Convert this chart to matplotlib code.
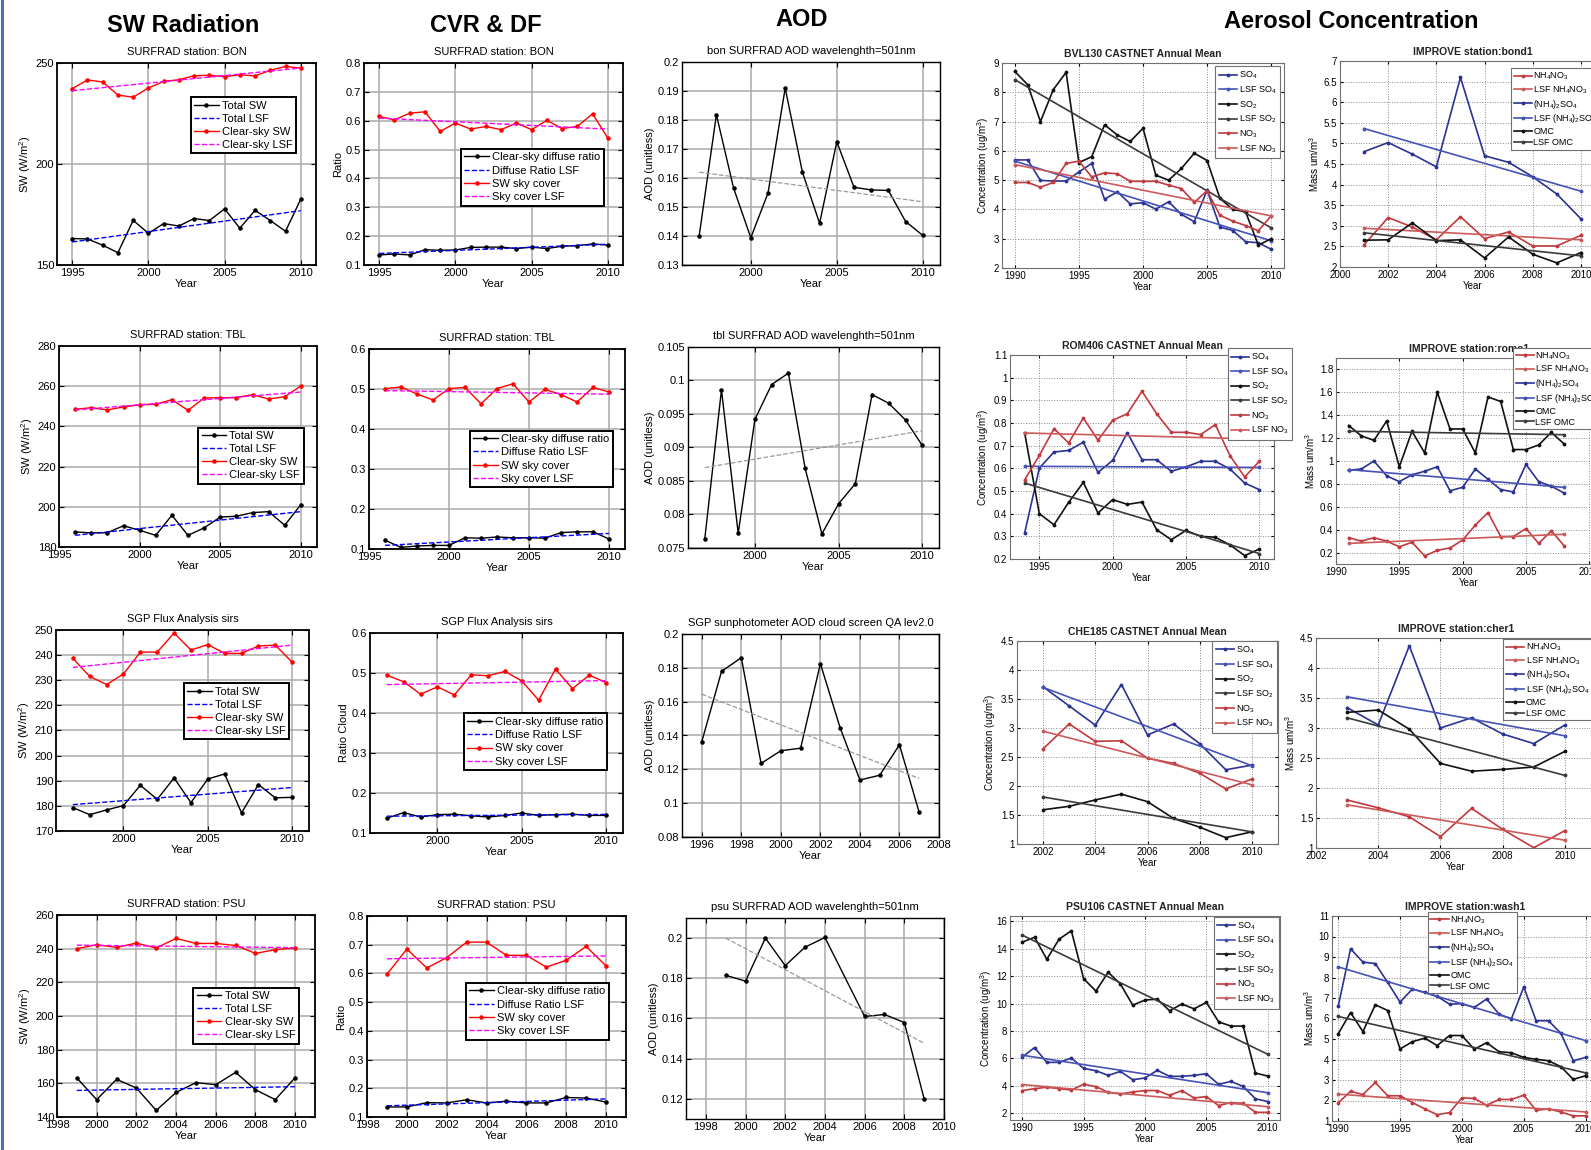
"""
Slide of four station rows: SW radiation, cloud cover / diffuse fraction,
AOD and aerosol concentration trends (CASTNET + IMPROVE).
"""

import matplotlib
matplotlib.use('Agg')
import matplotlib.pyplot as plt
from matplotlib.lines import Line2D

W, H = 1591, 1150

# =========================
# 1. data
# =========================
# --- SURFRAD BON ---
bon_years = list(range(1995, 2011))
bon_total_sw = [163.1, 162.9, 159.8, 156.1, 172.1, 165.7, 170.5, 169.3, 173.0, 172.0, 177.8, 168.2, 177.1, 172.0, 166.7, 182.6]
bon_total_lsf = [161.4, 176.9]
bon_clear_sw = [237.3, 241.6, 240.6, 234.1, 233.1, 237.6, 240.9, 241.7, 243.7, 243.9, 243.2, 244.2, 243.6, 246.4, 248.3, 247.5]
bon_clear_lsf = [236.3, 247.5]
bon_diffuse = [0.135, 0.138, 0.135, 0.153, 0.151, 0.152, 0.161, 0.162, 0.162, 0.157, 0.162, 0.157, 0.165, 0.167, 0.173, 0.169]
bon_diffuse_lsf = [0.140, 0.172]
bon_cover = [0.615, 0.603, 0.626, 0.631, 0.563, 0.592, 0.571, 0.580, 0.569, 0.592, 0.569, 0.601, 0.573, 0.580, 0.624, 0.540]
bon_cover_lsf = [0.609, 0.571]
bon_aod_years = list(range(1997, 2011))
bon_aod = [0.1401, 0.1818, 0.1565, 0.1394, 0.1548, 0.1910, 0.1620, 0.1444, 0.1725, 0.1568, 0.1559, 0.1557, 0.1450, 0.1402]
bon_aod_trend = [0.1620, 0.1518]

# --- SURFRAD TBL ---
tbl_years = list(range(1996, 2011))
tbl_total_sw = [187.5, 187.0, 187.1, 190.6, 188.3, 185.8, 195.8, 185.8, 189.5, 194.9, 195.3, 197.1, 197.6, 190.8, 201.1]
tbl_total_lsf = [185.8, 197.6]
tbl_clear_sw = [248.5, 249.3, 248.2, 249.7, 250.8, 251.0, 253.3, 248.0, 254.1, 254.3, 254.3, 255.8, 253.6, 254.8, 260.1]
tbl_clear_lsf = [248.2, 257.1]
tbl_diffuse = [0.122, 0.104, 0.1075, 0.109, 0.109, 0.128, 0.127, 0.130, 0.128, 0.128, 0.127, 0.141, 0.143, 0.143, 0.125]
tbl_diffuse_lsf = [0.109, 0.139]
tbl_cover = [0.501, 0.505, 0.4875, 0.4725, 0.501, 0.504, 0.463, 0.501, 0.513, 0.4675, 0.499, 0.486, 0.4675, 0.504, 0.4925]
tbl_cover_lsf = [0.496, 0.487]
tbl_aod_years = list(range(1997, 2011))
tbl_aod = [0.0763, 0.0986, 0.0772, 0.0942, 0.0994, 0.1011, 0.0869, 0.0771, 0.0816, 0.0846, 0.0979, 0.0966, 0.0941, 0.0903]
tbl_aod_trend = [0.0870, 0.0925]

# --- SGP ---
sgp_years = list(range(1997, 2011))
sgp_total_sw = [179.3, 176.5, 178.4, 180.1, 188.2, 182.6, 191.1, 181.3, 190.7, 192.7, 177.2, 188.5, 183.2, 183.4]
sgp_total_lsf = [180.5, 187.3]
sgp_clear_sw = [238.7, 231.5, 228.3, 232.5, 241.2, 241.2, 248.8, 242.0, 244.2, 240.7, 240.7, 243.6, 244.0, 237.2]
sgp_clear_lsf = [235.1, 244.0]
sgp_diffuse = [0.137, 0.151, 0.140, 0.146, 0.147, 0.143, 0.140, 0.144, 0.150, 0.144, 0.146, 0.147, 0.144, 0.144]
sgp_diffuse_lsf = [0.142, 0.1465]
sgp_cover = [0.4945, 0.478, 0.447, 0.4655, 0.445, 0.4955, 0.493, 0.504, 0.480, 0.432, 0.510, 0.461, 0.4945, 0.476]
sgp_cover_lsf = [0.471, 0.481]
sgp_aod_years = list(range(1996, 2008))
sgp_aod = [0.1363, 0.1779, 0.1860, 0.1235, 0.1310, 0.1325, 0.1825, 0.1445, 0.1137, 0.1165, 0.1345, 0.0945]
sgp_aod_trend = [0.1644, 0.1146]

# --- SURFRAD PSU ---
psu_years = list(range(1999, 2011))
psu_total_sw = [163.2, 150.3, 162.4, 157.2, 143.9, 154.6, 160.4, 159.2, 166.5, 156.2, 150.3, 163.4]
psu_total_lsf = [155.8, 158.0]
psu_clear_sw = [240.0, 242.3, 240.8, 243.3, 240.4, 246.1, 243.1, 243.1, 241.9, 237.2, 239.4, 240.4]
psu_clear_lsf = [242.1, 240.6]
psu_diffuse = [0.135, 0.135, 0.150, 0.149, 0.160, 0.149, 0.155, 0.149, 0.149, 0.168, 0.166, 0.152]
psu_diffuse_lsf = [0.139, 0.163]
psu_cover = [0.597, 0.685, 0.619, 0.655, 0.709, 0.709, 0.663, 0.663, 0.622, 0.646, 0.694, 0.626]
psu_cover_lsf = [0.651, 0.661]
psu_aod_years = [1999, 2000, 2001, 2002, 2003, 2004, 2006, 2007, 2008, 2009]
psu_aod = [0.1815, 0.1786, 0.2000, 0.1863, 0.1955, 0.2003, 0.1610, 0.1620, 0.1580, 0.1200]
psu_aod_trend_years = [1999, 2009]
psu_aod_trend = [0.2000, 0.1477]

# --- CASTNET ---
bvl_years = list(range(1990, 2011))
bvl_so4 = [5.69, 5.69, 4.99, 4.97, 4.97, 5.28, 5.57, 4.35, 4.60, 4.19, 4.23, 4.01, 4.26, 3.83, 3.58, 4.66, 3.40, 3.28, 2.90, 2.86, 2.64]
bvl_so4_lsf = [5.65, 2.93]
bvl_so2 = [8.71, 8.26, 7.00, 8.09, 8.68, 5.60, 5.80, 6.89, 6.54, 6.32, 6.77, 5.17, 5.00, 5.40, 5.92, 5.67, 4.38, 4.00, 3.92, 2.78, 3.00]
bvl_so2_lsf = [8.43, 3.37]
bvl_no3 = [4.92, 4.92, 4.76, 4.92, 5.57, 5.65, 5.11, 5.25, 5.22, 4.96, 4.96, 4.96, 4.83, 4.71, 4.24, 4.64, 3.80, 3.60, 3.45, 3.27, 3.78]
bvl_no3_lsf = [5.53, 3.78]

rom_years = list(range(1994, 2011))
rom_so4 = [0.315, 0.601, 0.672, 0.679, 0.715, 0.582, 0.635, 0.757, 0.638, 0.638, 0.587, 0.606, 0.631, 0.631, 0.597, 0.535, 0.506]
rom_so4_lsf = [0.609, 0.604]
rom_so2 = [0.756, 0.400, 0.351, 0.450, 0.538, 0.403, 0.462, 0.441, 0.451, 0.329, 0.285, 0.326, 0.300, 0.296, 0.262, 0.215, 0.244]
rom_so2_lsf = [0.535, 0.224]
rom_no3 = [0.549, 0.657, 0.775, 0.712, 0.822, 0.724, 0.812, 0.841, 0.940, 0.841, 0.759, 0.759, 0.749, 0.793, 0.656, 0.562, 0.631]
rom_no3_lsf = [0.756, 0.729]

che_years = list(range(2002, 2011))
che_so4 = [3.71, 3.38, 3.05, 3.75, 2.88, 3.07, 2.73, 2.28, 2.36]
che_so4_lsf = [3.70, 2.35]
che_so2 = [1.59, 1.65, 1.76, 1.86, 1.73, 1.44, 1.29, 1.11, 1.21]
che_so2_lsf = [1.81, 1.21]
che_no3 = [2.64, 3.07, 2.77, 2.78, 2.48, 2.39, 2.22, 1.95, 2.12]
che_no3_lsf = [2.945, 2.02]

psu106_years = list(range(1990, 2011))
psu106_so4 = [6.10, 6.79, 5.71, 5.71, 6.03, 5.27, 5.10, 4.76, 5.05, 4.44, 4.57, 5.13, 4.69, 4.69, 4.76, 4.88, 4.10, 4.32, 3.95, 3.05, 2.85]
psu106_so4_lsf = [6.23, 3.49]
psu106_so2 = [14.49, 14.85, 13.24, 14.71, 15.32, 11.82, 10.92, 12.29, 11.43, 9.89, 10.26, 10.33, 9.48, 9.97, 9.62, 10.09, 8.67, 8.36, 8.36, 4.93, 4.71]
psu106_so2_lsf = [15.0, 6.30]
psu106_no3 = [3.65, 3.79, 3.89, 3.79, 3.69, 4.11, 3.94, 3.52, 3.40, 3.55, 3.65, 3.65, 3.30, 3.65, 3.11, 3.21, 2.55, 2.77, 2.72, 2.06, 2.06]
psu106_no3_lsf = [4.09, 2.47]

# --- IMPROVE ---
bond_years = list(range(2001, 2011))
bond_nh4no3 = [2.54, 3.20, 2.97, 2.66, 3.22, 2.69, 2.85, 2.51, 2.51, 2.77]
bond_nh4no3_lsf = [2.94, 2.66]
bond_so4 = [4.80, 5.02, 4.74, 4.43, 6.60, 4.70, 4.54, 4.19, 3.77, 3.17]
bond_so4_lsf = [5.36, 3.84]
bond_omc = [2.65, 2.66, 3.07, 2.64, 2.66, 2.22, 2.73, 2.31, 2.10, 2.35]
bond_omc_lsf = [2.83, 2.27]

romo_years = list(range(1991, 2009))
romo_nh4no3 = [0.33, 0.30, 0.33, 0.30, 0.25, 0.29, 0.17, 0.22, 0.24, 0.31, 0.44, 0.55, 0.34, 0.34, 0.41, 0.28, 0.39, 0.26]
romo_nh4no3_lsf = [0.28, 0.36]
romo_so4 = [0.92, 0.93, 1.00, 0.87, 0.82, 0.88, 0.91, 0.95, 0.74, 0.77, 0.93, 0.84, 0.75, 0.73, 0.97, 0.82, 0.78, 0.72]
romo_so4_lsf = [0.925, 0.77]
romo_omc = [1.31, 1.22, 1.18, 1.35, 0.95, 1.26, 1.07, 1.60, 1.28, 1.28, 1.07, 1.56, 1.52, 1.10, 1.10, 1.14, 1.25, 1.15]
romo_omc_lsf = [1.26, 1.23]

cher_years = list(range(2003, 2011))
cher_nh4no3 = [1.80, 1.67, 1.52, 1.19, 1.66, 1.31, 1.005, 1.29]
cher_nh4no3_lsf = [1.72, 1.13]
cher_so4 = [3.34, 3.05, 4.37, 3.00, 3.17, 2.90, 2.74, 3.05]
cher_so4_lsf = [3.52, 2.87]
cher_omc = [3.26, 3.30, 2.98, 2.41, 2.28, 2.31, 2.35, 2.61]
cher_omc_lsf = [3.17, 2.21]

wash_years = list(range(1990, 2011))
wash_nh4no3 = [1.88, 2.45, 2.29, 2.88, 2.23, 2.23, 1.90, 1.59, 1.31, 1.41, 2.13, 2.10, 1.77, 2.05, 2.05, 2.26, 1.52, 1.59, 1.44, 1.25, 1.25]
wash_nh4no3_lsf = [2.31, 1.44]
wash_so4 = [6.59, 9.40, 8.75, 8.68, 7.76, 6.80, 7.44, 7.27, 7.08, 6.70, 6.72, 6.54, 6.95, 6.21, 5.98, 7.54, 5.89, 5.89, 5.28, 3.94, 4.10]
wash_so4_lsf = [8.52, 4.92]
wash_omc = [5.25, 6.29, 5.36, 6.67, 6.39, 4.51, 4.87, 5.04, 4.68, 5.17, 5.17, 4.50, 4.82, 4.38, 4.33, 4.10, 4.01, 3.94, 3.65, 3.03, 3.21]
wash_omc_lsf = [6.10, 3.35]


# =========================
# 2. fonts / helpers
# =========================
plt.rcParams['font.family'] = ['Liberation Sans', 'DejaVu Sans']
plt.rcParams['mathtext.fontset'] = 'custom'
plt.rcParams['mathtext.rm'] = 'Liberation Sans'
plt.rcParams['mathtext.it'] = 'Liberation Sans:italic'
plt.rcParams['mathtext.default'] = 'regular'

BLUE = '#2b3292'
BLUE_LSF = '#4652b6'
RED = '#c03a3e'
RED_LSF = '#cc5a5a'
BLACK = '#111111'
BLACK_LSF = '#3a3a3a'


def steps(a, b, s):
    n = int(round((b - a) / s))
    return [round(a + i * s, 4) for i in range(n + 1)]


def add_axes_px(fig, box):
    left, top, right, bottom = box
    return fig.add_axes([left / W, 1 - bottom / H, (right - left) / W, (bottom - top) / H])


def setup(ax, kind, title, xlim, ylim, xticks, yticks, ylabel):
    ax.set_xlim(*xlim)
    ax.set_ylim(*ylim)
    ax.set_xticks(xticks, labels=[f'{v:g}' for v in xticks])
    ax.set_yticks(yticks, labels=[f'{v:g}' for v in yticks])
    if kind == 'aer':
        ax.grid(True, linestyle=':', color='#8a8a8a', linewidth=0.7)
        fs, spine_lw, spine_c, tl = 7, 0.8, '#707070', 2.5
        ax.set_title(title, fontsize=7.5, fontweight='bold', color='#222222', pad=4)
    else:
        ax.grid(True, linestyle='-', color='#a9a9a9', linewidth=1.1)
        fs, spine_lw, spine_c, tl = 8, (1.3 if kind == 'sw' else 1.0), 'black', 3.5
        ax.set_title(title, fontsize=8, pad=6)
    ax.set_axisbelow(True)
    ax.tick_params(direction='in', top=True, right=True, length=tl, width=0.8,
                   labelsize=fs, pad=2)
    for s in ax.spines.values():
        s.set_linewidth(spine_lw)
        s.set_color(spine_c)
    ax.set_xlabel('Year', fontsize=fs, labelpad=1)
    ax.set_ylabel(ylabel, fontsize=fs, labelpad=2)


def box_legend(ax, anchor, loc='upper left', fs=8, edge='black', lw=1.4, **kw):
    leg = ax.legend(loc=loc, bbox_to_anchor=anchor, borderaxespad=0, fancybox=False,
                    framealpha=1, edgecolor=edge, fontsize=fs, **kw)
    leg.get_frame().set_linewidth(lw)
    return leg


# =========================
# 3. panel drawing
# =========================
def plot_sw(ax, years, total, total_lsf, clear, clear_lsf, anchor):
    ends = [years[0], years[-1]]
    ax.plot(years, total, '-', color='black', marker='.', ms=4.5, lw=1, label='Total SW')
    ax.plot(ends, total_lsf, '--', color='blue', lw=1, label='Total LSF')
    ax.plot(years, clear, '-', color='red', marker='.', ms=4.5, lw=1, label='Clear-sky SW')
    ax.plot(ends, clear_lsf, '--', color='magenta', lw=1, label='Clear-sky LSF')
    box_legend(ax, anchor, handlelength=2.2, handletextpad=0.3, borderpad=0.3, labelspacing=0.28)


def plot_cvr(ax, years, diffuse, diffuse_lsf, cover, cover_lsf, anchor):
    ends = [years[0], years[-1]]
    ax.plot(years, diffuse, '-', color='black', marker='.', ms=4.5, lw=1, label='Clear-sky diffuse ratio')
    ax.plot(ends, diffuse_lsf, '--', color='blue', lw=1, label='Diffuse Ratio LSF')
    ax.plot(years, cover, '-', color='red', marker='.', ms=4.5, lw=1, label='SW sky cover')
    ax.plot(ends, cover_lsf, '--', color='magenta', lw=1, label='Sky cover LSF')
    box_legend(ax, anchor, handlelength=2.2, handletextpad=0.3, borderpad=0.3, labelspacing=0.3)


def plot_aod(ax, years, aod, trend_years, trend):
    ax.plot(years, aod, '-', color='black', marker='.', ms=4.5, lw=1)
    ax.plot(trend_years, trend, '--', color='#9a9a9a', lw=0.9)


def plot_castnet(ax, years, so4, so4_lsf, so2, so2_lsf, no3, no3_lsf, anchor):
    ends = [years[0], years[-1]]
    kw = dict(marker='.', ms=3.5, lw=1.2)
    ax.plot(years, so4, color=BLUE, label='SO$_4$', **kw)
    ax.plot(ends, so4_lsf, color=BLUE_LSF, label='LSF SO$_4$', **kw)
    ax.plot(years, so2, color=BLACK, label='SO$_2$', **kw)
    ax.plot(ends, so2_lsf, color=BLACK_LSF, label='LSF SO$_2$', **kw)
    ax.plot(years, no3, color=RED, label='NO$_3$', **kw)
    ax.plot(ends, no3_lsf, color=RED_LSF, label='LSF NO$_3$', **kw)
    box_legend(ax, anchor, loc='upper right', fs=6.5, edge='#707070', lw=0.8,
               handlelength=2.0, handletextpad=0.2, borderpad=0.4, labelspacing=0.35)


def plot_improve(ax, years, nh4no3, nh4no3_lsf, so4, so4_lsf, omc, omc_lsf, anchor):
    ends = [years[0], years[-1]]
    kw = dict(marker='.', ms=3.5, lw=1.2)
    ax.plot(years, nh4no3, color=RED, label='NH$_4$NO$_3$', **kw)
    ax.plot(ends, nh4no3_lsf, color=RED_LSF, label='LSF NH$_4$NO$_3$', **kw)
    ax.plot(years, so4, color=BLUE, label='(NH$_4$)$_2$SO$_4$', **kw)
    ax.plot(ends, so4_lsf, color=BLUE_LSF, label='LSF (NH$_4$)$_2$SO$_4$', **kw)
    ax.plot(years, omc, color=BLACK, label='OMC', **kw)
    ax.plot(ends, omc_lsf, color=BLACK_LSF, label='LSF OMC', **kw)
    box_legend(ax, anchor, fs=6.5, edge='#707070', lw=0.8,
               handlelength=2.0, handletextpad=0.2, borderpad=0.3, labelspacing=0.2)


# =========================
# 4. main
# =========================
def main():
    fig = plt.figure(figsize=(W / 100, H / 100), dpi=100)

    for x, txt, y in [(183, 'SW Radiation', 25), (486, 'CVR & DF', 25),
                      (802, 'AOD', 20), (1351, 'Aerosol Concentration', 21)]:
        fig.text(x / W, 1 - y / H, txt, ha='center', va='center', fontsize=17, fontweight='bold')
    fig.add_artist(Line2D([0.001, 0.001], [0, 1], transform=fig.transFigure, color='#4f6fb5', lw=2.2))

    sw_lab = 'SW (W/m$^{2}$)'
    aer_lab = 'Concentration (ug/m$^3$)'
    mass_lab = 'Mass um/m$^3$'

    # ---- row 1 : BON ----
    ax = add_axes_px(fig, (57, 63, 316, 265))
    setup(ax, 'sw', 'SURFRAD station: BON', (1994, 2011), (150, 250), steps(1995, 2010, 5), steps(150, 250, 50), sw_lab)
    plot_sw(ax, bon_years, bon_total_sw, bon_total_lsf, bon_clear_sw, bon_clear_lsf, (0.517, 0.83))

    ax = add_axes_px(fig, (364, 63, 623, 265))
    setup(ax, 'sw', 'SURFRAD station: BON', (1994, 2011), (0.1, 0.8), steps(1995, 2010, 5), steps(0.1, 0.8, 0.1), 'Ratio')
    plot_cvr(ax, bon_years, bon_diffuse, bon_diffuse_lsf, bon_cover, bon_cover_lsf, (0.375, 0.574))

    ax = add_axes_px(fig, (682, 62, 940, 265))
    setup(ax, 'aod', 'bon SURFRAD AOD wavelenghth=501nm', (1996, 2011), (0.13, 0.2), steps(2000, 2010, 5), steps(0.13, 0.2, 0.01), 'AOD (unitless)')
    plot_aod(ax, bon_aod_years, bon_aod, [1997, 2010], bon_aod_trend)

    ax = add_axes_px(fig, (1002, 63, 1284, 268))
    setup(ax, 'aer', 'BVL130 CASTNET Annual Mean', (1989, 2011), (2, 9), steps(1990, 2010, 5), steps(2, 9, 1), aer_lab)
    plot_castnet(ax, bvl_years, bvl_so4, bvl_so4_lsf, bvl_so2, bvl_so2_lsf, bvl_no3, bvl_no3_lsf, (0.987, 0.984))

    ax = add_axes_px(fig, (1340, 61, 1605, 267))
    setup(ax, 'aer', 'IMPROVE station:bond1', (2000, 2011), (2, 7), steps(2000, 2010, 2), steps(2, 7, 0.5), mass_lab)
    plot_improve(ax, bond_years, bond_nh4no3, bond_nh4no3_lsf, bond_so4, bond_so4_lsf, bond_omc, bond_omc_lsf, (0.645, 0.965))

    # ---- row 2 : TBL ----
    ax = add_axes_px(fig, (59, 346, 317, 547))
    setup(ax, 'sw', 'SURFRAD station: TBL', (1995, 2011), (180, 280), steps(1995, 2010, 5), steps(180, 280, 20), sw_lab)
    plot_sw(ax, tbl_years, tbl_total_sw, tbl_total_lsf, tbl_clear_sw, tbl_clear_lsf, (0.54, 0.594))

    ax = add_axes_px(fig, (369, 349, 625, 549))
    setup(ax, 'sw', 'SURFRAD station: TBL', (1995, 2011), (0.1, 0.6), steps(1995, 2010, 5), steps(0.1, 0.6, 0.1), '')
    plot_cvr(ax, tbl_years, tbl_diffuse, tbl_diffuse_lsf, tbl_cover, tbl_cover_lsf, (0.394, 0.592))

    ax = add_axes_px(fig, (688, 347, 939, 548))
    setup(ax, 'aod', 'tbl SURFRAD AOD wavelenghth=501nm', (1996, 2011), (0.075, 0.105), steps(2000, 2010, 5), steps(0.075, 0.105, 0.005), 'AOD (unitless)')
    plot_aod(ax, tbl_aod_years, tbl_aod, [1997, 2010], tbl_aod_trend)

    ax = add_axes_px(fig, (1010, 355, 1274, 559))
    setup(ax, 'aer', 'ROM406 CASTNET Annual Mean', (1993, 2011), (0.2, 1.1), steps(1995, 2010, 5), steps(0.2, 1.1, 0.1), aer_lab)
    plot_castnet(ax, rom_years, rom_so4, rom_so4_lsf, rom_so2, rom_so2_lsf, rom_no3, rom_no3_lsf, (1.07, 1.034))

    ax = add_axes_px(fig, (1336, 358, 1602, 564))
    setup(ax, 'aer', 'IMPROVE station:romo1', (1990, 2011), (0.1, 1.9), steps(1990, 2010, 5), steps(0.2, 1.8, 0.2), mass_lab)
    plot_improve(ax, romo_years, romo_nh4no3, romo_nh4no3_lsf, romo_so4, romo_so4_lsf, romo_omc, romo_omc_lsf, (0.665, 1.049))

    # ---- row 3 : SGP ----
    ax = add_axes_px(fig, (56, 630, 309, 831))
    setup(ax, 'sw', 'SGP Flux Analysis sirs', (1996, 2011), (170, 250), steps(2000, 2010, 5), steps(170, 250, 10), sw_lab)
    plot_sw(ax, sgp_years, sgp_total_sw, sgp_total_lsf, sgp_clear_sw, sgp_clear_lsf, (0.505, 0.734))

    ax = add_axes_px(fig, (370, 633, 623, 833))
    setup(ax, 'sw', 'SGP Flux Analysis sirs', (1996, 2011), (0.1, 0.6), steps(2000, 2010, 5), steps(0.1, 0.6, 0.1), 'Ratio Cloud')
    plot_cvr(ax, sgp_years, sgp_diffuse, sgp_diffuse_lsf, sgp_cover, sgp_cover_lsf, (0.371, 0.598))

    ax = add_axes_px(fig, (682, 634, 939, 837))
    setup(ax, 'aod', 'SGP sunphotometer AOD cloud screen QA lev2.0', (1995, 2008), (0.08, 0.2), steps(1996, 2008, 2), steps(0.08, 0.2, 0.02), 'AOD (unitless)')
    plot_aod(ax, sgp_aod_years, sgp_aod, [1996, 2007], sgp_aod_trend)

    ax = add_axes_px(fig, (1017, 641, 1278, 844))
    setup(ax, 'aer', 'CHE185 CASTNET Annual Mean', (2001, 2011), (1, 4.5), steps(2002, 2010, 2), steps(1, 4.5, 0.5), aer_lab)
    plot_castnet(ax, che_years, che_so4, che_so4_lsf, che_so2, che_so2_lsf, che_no3, che_no3_lsf, (0.997, 1.0))

    ax = add_axes_px(fig, (1316, 638, 1596, 848))
    setup(ax, 'aer', 'IMPROVE station:cher1', (2002, 2011), (1, 4.5), steps(2002, 2010, 2), steps(1, 4.5, 0.5), mass_lab)
    plot_improve(ax, cher_years, cher_nh4no3, cher_nh4no3_lsf, cher_so4, cher_so4_lsf, cher_omc, cher_omc_lsf, (0.668, 0.995))

    # ---- row 4 : PSU ----
    ax = add_axes_px(fig, (57, 915, 315, 1117))
    setup(ax, 'sw', 'SURFRAD station: PSU', (1998, 2011), (140, 260), steps(1998, 2010, 2), steps(140, 260, 20), sw_lab)
    plot_sw(ax, psu_years, psu_total_sw, psu_total_lsf, psu_clear_sw, psu_clear_lsf, (0.529, 0.641))

    ax = add_axes_px(fig, (367, 916, 626, 1117))
    setup(ax, 'sw', 'SURFRAD station: PSU', (1998, 2011), (0.1, 0.8), steps(1998, 2010, 2), steps(0.1, 0.8, 0.1), 'Ratio')
    plot_cvr(ax, psu_years, psu_diffuse, psu_diffuse_lsf, psu_cover, psu_cover_lsf, (0.382, 0.667))

    ax = add_axes_px(fig, (686, 918, 944, 1119))
    setup(ax, 'aod', 'psu SURFRAD AOD wavelenghth=501nm', (1997, 2010), (0.11, 0.21), steps(1998, 2010, 2), steps(0.12, 0.2, 0.02), 'AOD (unitless)')
    plot_aod(ax, psu_aod_years, psu_aod, psu_aod_trend_years, psu_aod_trend)

    ax = add_axes_px(fig, (1010, 916, 1280, 1120))
    setup(ax, 'aer', 'PSU106 CASTNET Annual Mean', (1989, 2011), (1.5, 16.4), steps(1990, 2010, 5), steps(2, 16, 2), aer_lab)
    plot_castnet(ax, psu106_years, psu106_so4, psu106_so4_lsf, psu106_so2, psu106_so2_lsf, psu106_no3, psu106_no3_lsf, (0.995, 0.997))

    ax = add_axes_px(fig, (1332, 916, 1598, 1121))
    setup(ax, 'aer', 'IMPROVE station:wash1', (1989.5, 2011), (1, 11), steps(1990, 2010, 5), steps(1, 11, 1), mass_lab)
    plot_improve(ax, wash_years, wash_nh4no3, wash_nh4no3_lsf, wash_so4, wash_so4_lsf, wash_omc, wash_omc_lsf, (0.36, 1.02))

    fig.savefig('out.png', dpi=100)


if __name__ == '__main__':
    main()
